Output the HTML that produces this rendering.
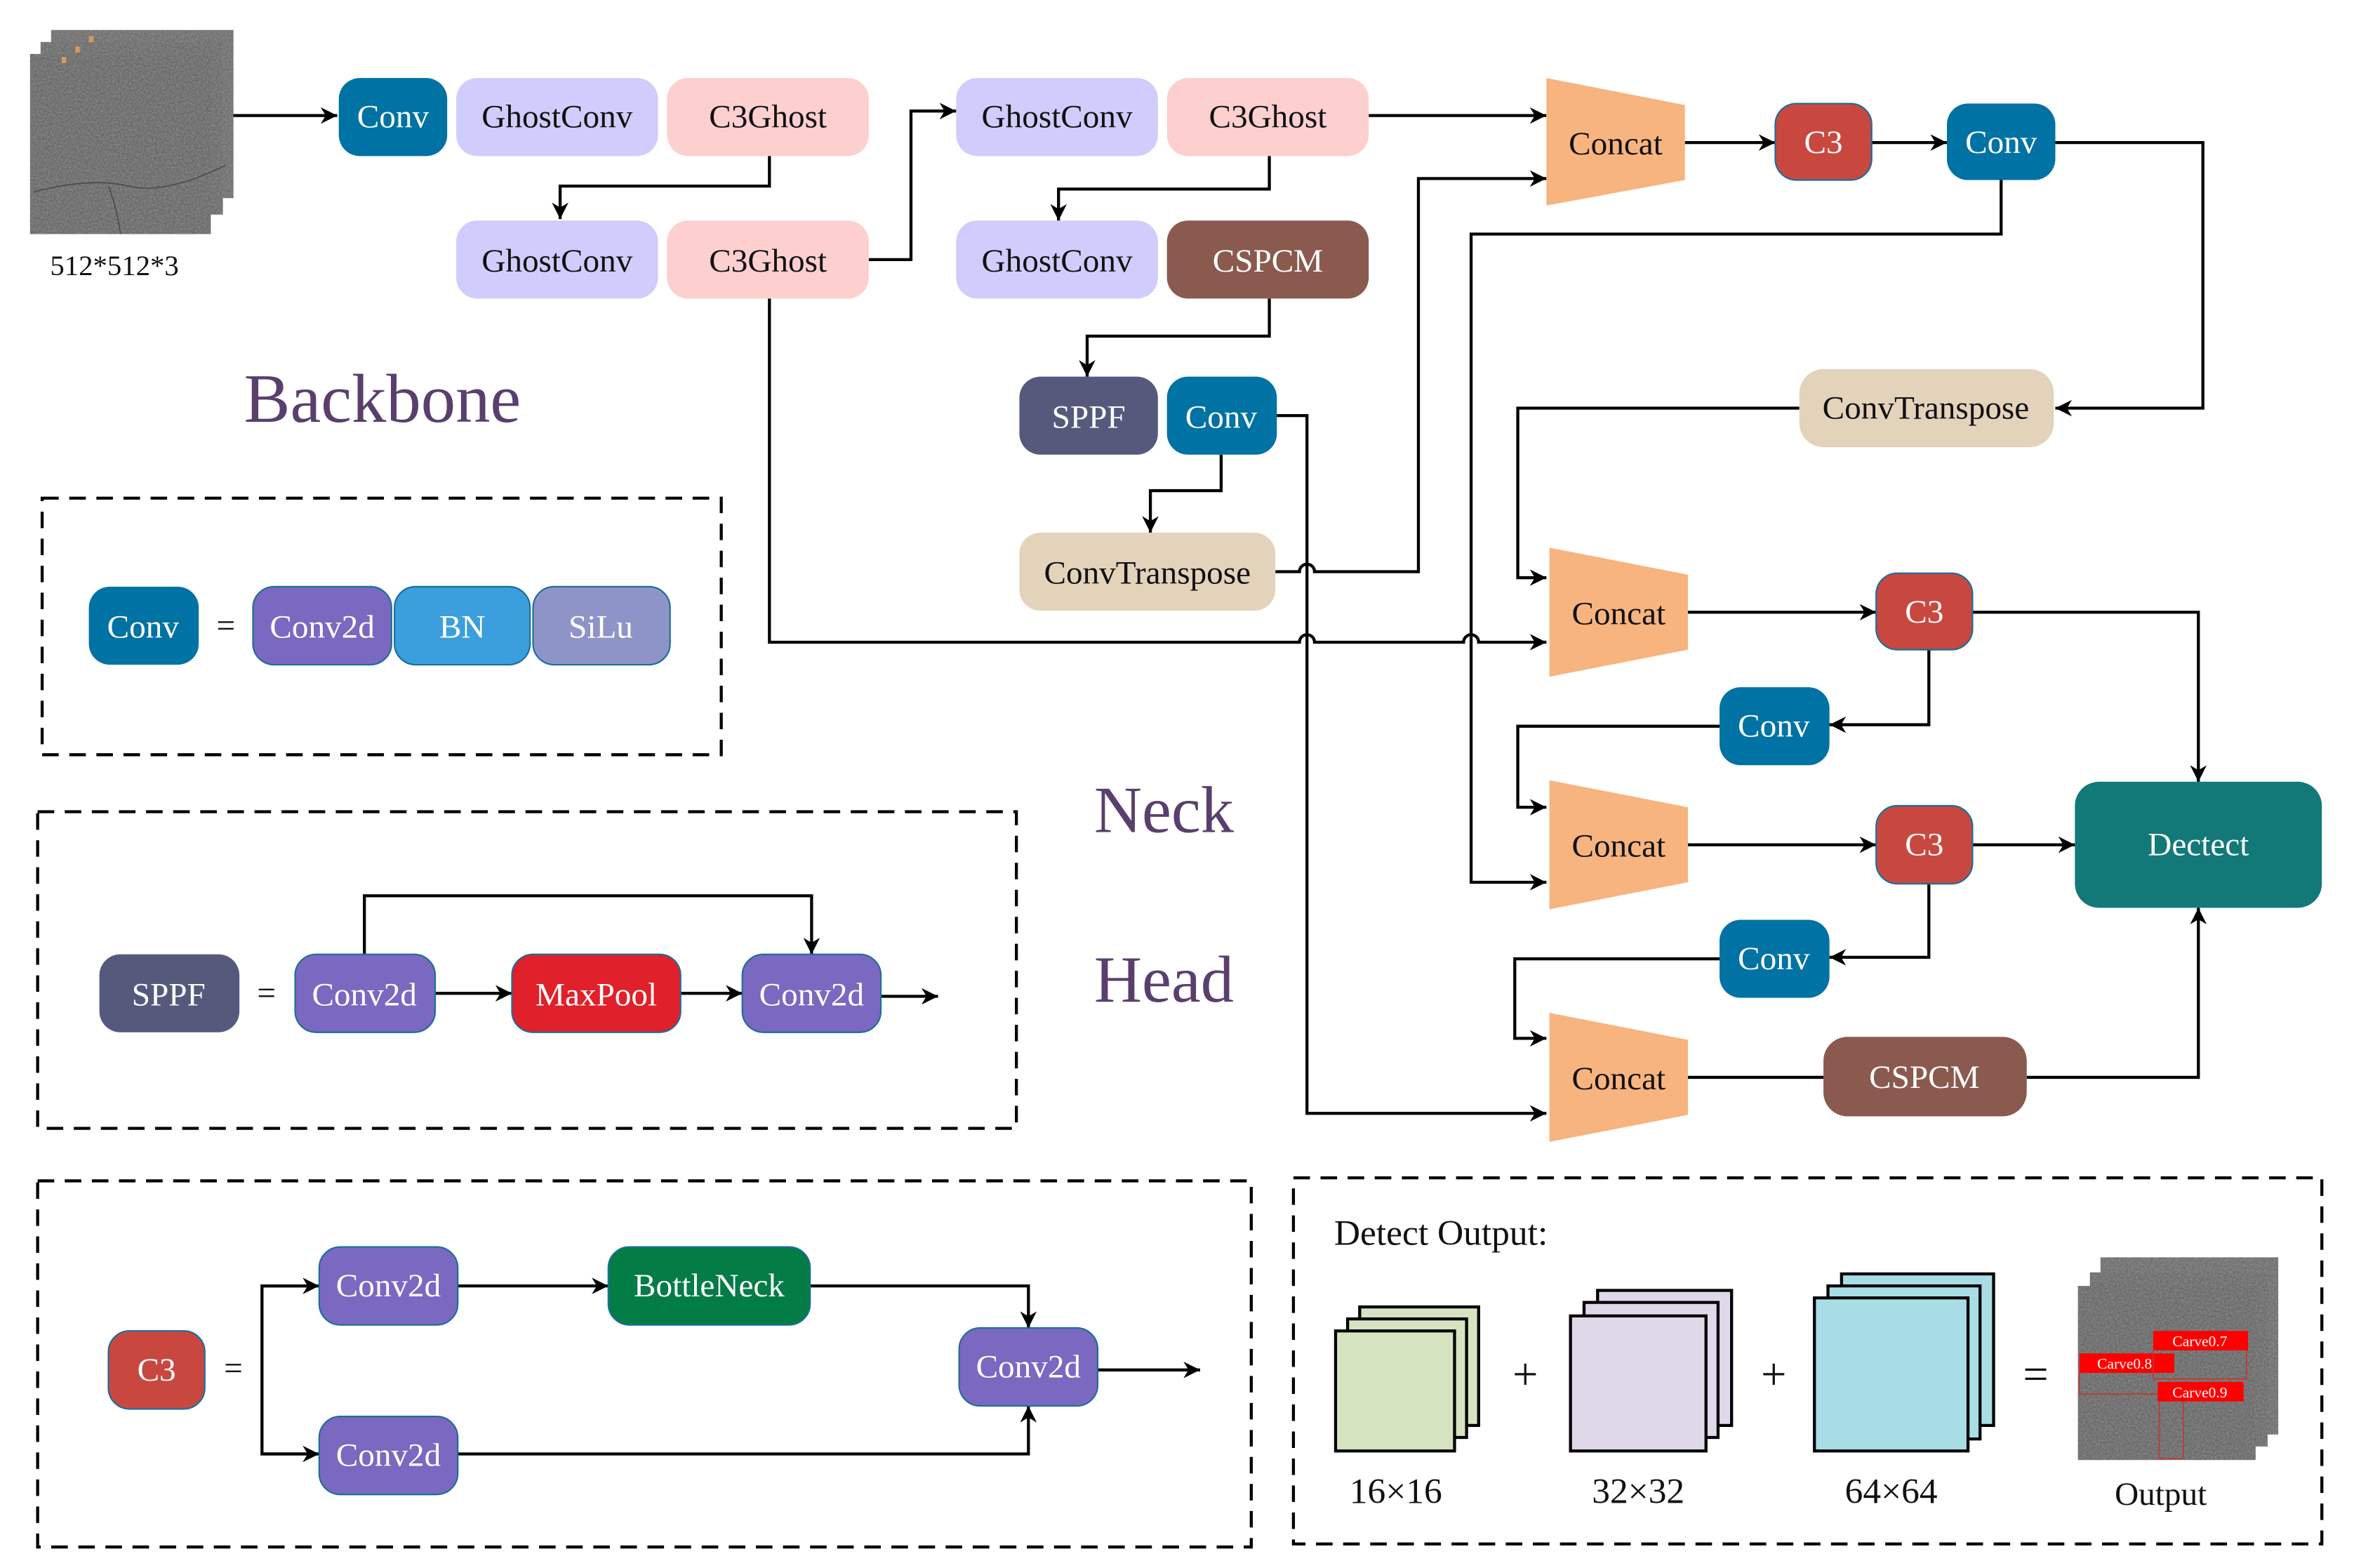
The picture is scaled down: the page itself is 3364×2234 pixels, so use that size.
<!DOCTYPE html>
<html><head><meta charset="utf-8"><style>
html,body{margin:0;padding:0;background:#fff;}
svg{display:block;}
text{font-family:"Liberation Serif",serif;}
</style></head><body>
<svg width="3364" height="2234" viewBox="0 0 1568 1045" preserveAspectRatio="none" xmlns="http://www.w3.org/2000/svg">
<defs>
<marker id="a" viewBox="0 0 10 10" refX="10" refY="5" markerWidth="12" markerHeight="11" orient="auto" markerUnits="userSpaceOnUse"><path d="M0,0 L10,5 L0,10 L3,5 z" fill="#000"/></marker>
<filter id="n" x="0" y="0" width="1" height="1"><feTurbulence type="fractalNoise" baseFrequency="0.8" numOctaves="2" seed="3"/><feColorMatrix type="matrix" values="0 0 0 0 0.3  0 0 0 0 0.3  0 0 0 0 0.3  0 0 0 -1.2 0.9"/></filter>
</defs>
<style>
.l{fill:none;stroke:#000;stroke-width:2;}
.b{stroke:#1b6e9a;stroke-width:1;}
.t{font-family:"Liberation Serif",serif;font-size:22px;text-anchor:middle;dominant-baseline:central;}
.w{fill:#fff;}
.k{fill:#111;}
.d{fill:none;stroke:#000;stroke-width:2;stroke-dasharray:11,7;}
</style>

<!-- input images -->
<g>
<rect x="34" y="20" width="121" height="112" fill="#6e6e6e"/><rect x="34" y="20" width="121" height="112" filter="url(#n)"/>
<rect x="27" y="28" width="121" height="115" fill="#6a6a6a"/><rect x="27" y="28" width="121" height="115" filter="url(#n)"/>
<rect x="20" y="36" width="120" height="120" fill="#686868"/><rect x="20" y="36" width="120" height="120" filter="url(#n)"/>
<path d="M22,128 Q60,118 85,124 T150,110 M72,124 Q78,140 80,156" fill="none" stroke="#3a3a3a" stroke-width="0.8" opacity="0.7"/>
<rect x="59" y="24" width="3" height="4" fill="#d99a5a"/><rect x="50" y="31" width="3" height="4" fill="#d99a5a"/><rect x="41" y="38" width="3" height="4" fill="#d99a5a"/>
</g>
<text x="76" y="177" class="t k" style="font-size:19px">512*512*3</text>

<!-- connectors -->
<path class="l" d="M155,77 H224" marker-end="url(#a)"/>
<path class="l" d="M511,103 V124 H372 V146" marker-end="url(#a)"/>
<path class="l" d="M577,173 H605 V74 H635" marker-end="url(#a)"/>
<path class="l" d="M909,77 H1027" marker-end="url(#a)"/>
<path class="l" d="M843,103 V126 H703 V147" marker-end="url(#a)"/>
<path class="l" d="M843,199 V224 H722 V251" marker-end="url(#a)"/>
<path class="l" d="M848,277 H868 V742 H1027" marker-end="url(#a)"/>
<path class="l" d="M811,303 V327 H764 V355" marker-end="url(#a)"/>
<path class="l" d="M847,381 H863 A5,5 0 0 1 873,381 H942 V119 H1027" marker-end="url(#a)"/>
<path class="l" d="M1119,95 H1179" marker-end="url(#a)"/>
<path class="l" d="M1243,95 H1293" marker-end="url(#a)"/>
<path class="l" d="M1365,95 H1463 V272 H1365" marker-end="url(#a)"/>
<path class="l" d="M1329,120 V156 H977 V588 H1027" marker-end="url(#a)"/>
<path class="l" d="M1195,272 H1008 V385 H1027" marker-end="url(#a)"/>
<path class="l" d="M511,199 V428 H863 A5,5 0 0 1 873,428 H972 A5,5 0 0 1 982,428 H1027" marker-end="url(#a)"/>
<path class="l" d="M1121,408 H1246" marker-end="url(#a)"/>
<path class="l" d="M1310,408 H1460 V521" marker-end="url(#a)"/>
<path class="l" d="M1281,433 V483 H1215" marker-end="url(#a)"/>
<path class="l" d="M1142,484 H1008 V538 H1027" marker-end="url(#a)"/>
<path class="l" d="M1121,563 H1246" marker-end="url(#a)"/>
<path class="l" d="M1310,563 H1378" marker-end="url(#a)"/>
<path class="l" d="M1281,589 V638 H1215" marker-end="url(#a)"/>
<path class="l" d="M1142,639 H1006 V692 H1027" marker-end="url(#a)"/>
<path class="l" d="M1121,718 H1211"/>
<path class="l" d="M1346,718 H1460 V605" marker-end="url(#a)"/>

<!-- backbone boxes -->
<rect x="225" y="52" width="72" height="52" rx="14" fill="#0072a3"/><text x="261" y="78" class="t w">Conv</text>
<rect x="303" y="52" width="134" height="52" rx="14" fill="#d0ccfc"/><text x="370" y="78" class="t k">GhostConv</text>
<rect x="443" y="52" width="134" height="52" rx="14" fill="#fdcfcf"/><text x="510" y="78" class="t k">C3Ghost</text>
<rect x="303" y="147" width="134" height="52" rx="14" fill="#d0ccfc"/><text x="370" y="174" class="t k">GhostConv</text>
<rect x="443" y="147" width="134" height="52" rx="14" fill="#fdcfcf"/><text x="510" y="174" class="t k">C3Ghost</text>
<rect x="635" y="52" width="134" height="52" rx="14" fill="#d0ccfc"/><text x="702" y="78" class="t k">GhostConv</text>
<rect x="775" y="52" width="134" height="52" rx="14" fill="#fdcfcf"/><text x="842" y="78" class="t k">C3Ghost</text>
<rect x="635" y="147" width="134" height="52" rx="14" fill="#d0ccfc"/><text x="702" y="174" class="t k">GhostConv</text>
<rect x="775" y="147" width="134" height="52" rx="14" fill="#8b5a4e"/><text x="842" y="174" class="t w">CSPCM</text>
<rect x="677" y="251" width="92" height="52" rx="14" fill="#555a7d"/><text x="723" y="278" class="t w">SPPF</text>
<rect x="775" y="251" width="73" height="52" rx="14" fill="#0072a3"/><text x="811" y="278" class="t w">Conv</text>
<rect x="677" y="355" width="170" height="52" rx="14" fill="#e3d3bb"/><text x="762" y="382" class="t k">ConvTranspose</text>

<!-- neck/head -->
<path d="M1027,52 L1119,70 V120 L1027,137 Z" fill="#f7b47f"/><text x="1073" y="96" class="t k">Concat</text>
<rect x="1179" y="69" width="64" height="51" rx="14" fill="#c84840" class="b"/><text x="1211" y="95" class="t w">C3</text>
<rect x="1293" y="69" width="72" height="51" rx="14" fill="#0072a3"/><text x="1329" y="95" class="t w">Conv</text>
<rect x="1195" y="246" width="169" height="52" rx="16" fill="#e3d3bb"/><text x="1279" y="272" class="t k">ConvTranspose</text>
<path d="M1029,365 L1121,383 V433 L1029,451 Z" fill="#f7b47f"/><text x="1075" y="409" class="t k">Concat</text>
<rect x="1246" y="382" width="64" height="51" rx="14" fill="#c84840" class="b"/><text x="1278" y="408" class="t w">C3</text>
<rect x="1142" y="458" width="73" height="52" rx="14" fill="#0072a3"/><text x="1178" y="484" class="t w">Conv</text>
<path d="M1029,520 L1121,538 V588 L1029,606 Z" fill="#f7b47f"/><text x="1075" y="564" class="t k">Concat</text>
<rect x="1246" y="537" width="64" height="52" rx="14" fill="#c84840" class="b"/><text x="1278" y="563" class="t w">C3</text>
<rect x="1378" y="521" width="164" height="84" rx="16" fill="#137878"/><text x="1460" y="563" class="t w">Dectect</text>
<rect x="1142" y="613" width="73" height="52" rx="14" fill="#0072a3"/><text x="1178" y="639" class="t w">Conv</text>
<path d="M1029,675 L1121,693 V743 L1029,761 Z" fill="#f7b47f"/><text x="1075" y="719" class="t k">Concat</text>
<rect x="1211" y="691" width="135" height="53" rx="16" fill="#8b5a4e"/><text x="1278" y="718" class="t w">CSPCM</text>

<!-- titles -->
<text x="254" y="266" class="t" style="font-size:46px;fill:#5a3f6e">Backbone</text>
<text x="773" y="540" class="t" style="font-size:44px;fill:#5a3f6e">Neck</text>
<text x="773" y="653" class="t" style="font-size:44px;fill:#5a3f6e">Head</text>

<!-- Box 1 -->
<rect x="28" y="332" width="451" height="171" class="d"/>
<rect x="59" y="391" width="73" height="52" rx="14" fill="#0072a3"/><text x="95" y="418" class="t w">Conv</text>
<text x="150" y="417" class="t k">=</text>
<rect x="168" y="391" width="92" height="52" rx="14" fill="#7b68c0" class="b"/><text x="214" y="418" class="t w">Conv2d</text>
<rect x="262" y="391" width="90" height="52" rx="14" fill="#3a9fdc" class="b"/><text x="307" y="418" class="t w">BN</text>
<rect x="354" y="391" width="91" height="52" rx="14" fill="#8f94c8" class="b"/><text x="399" y="418" class="t w">SiLu</text>

<!-- Box 2 -->
<rect x="25" y="541" width="650" height="211" class="d"/>
<rect x="66" y="636" width="93" height="52" rx="14" fill="#555a7d"/><text x="112" y="663" class="t w">SPPF</text>
<text x="177" y="662" class="t k">=</text>
<path class="l" d="M242,636 V597 H539 V636" marker-end="url(#a)"/>
<path class="l" d="M289,662 H340" marker-end="url(#a)"/>
<path class="l" d="M452,662 H493" marker-end="url(#a)"/>
<path class="l" d="M585,664 H623" marker-end="url(#a)"/>
<rect x="196" y="636" width="93" height="52" rx="14" fill="#7b68c0" class="b"/><text x="242" y="663" class="t w">Conv2d</text>
<rect x="340" y="636" width="112" height="52" rx="14" fill="#e0202a" class="b"/><text x="396" y="663" class="t w">MaxPool</text>
<rect x="493" y="636" width="92" height="52" rx="14" fill="#7b68c0" class="b"/><text x="539" y="663" class="t w">Conv2d</text>

<!-- Box 3 -->
<rect x="25" y="787" width="806" height="244" class="d"/>
<rect x="72" y="887" width="64" height="52" rx="14" fill="#c84840" class="b"/><text x="104" y="913" class="t w">C3</text>
<text x="155" y="912" class="t k">=</text>
<path class="l" d="M211,857 H174 V969 H211" />
<path class="l" d="M174,857 H212" marker-end="url(#a)"/>
<path class="l" d="M174,969 H212" marker-end="url(#a)"/>
<path class="l" d="M304,857 H404" marker-end="url(#a)"/>
<path class="l" d="M538,857 H683 V885" marker-end="url(#a)"/>
<path class="l" d="M304,969 H683 V937" marker-end="url(#a)"/>
<path class="l" d="M729,913 H797" marker-end="url(#a)"/>
<rect x="212" y="831" width="92" height="52" rx="14" fill="#7b68c0" class="b"/><text x="258" y="857" class="t w">Conv2d</text>
<rect x="404" y="831" width="134" height="52" rx="14" fill="#037c45" class="b"/><text x="471" y="857" class="t w">BottleNeck</text>
<rect x="637" y="885" width="92" height="52" rx="14" fill="#7b68c0" class="b"/><text x="683" y="911" class="t w">Conv2d</text>
<rect x="212" y="944" width="92" height="52" rx="14" fill="#7b68c0" class="b"/><text x="258" y="970" class="t w">Conv2d</text>

<!-- Box 4 -->
<rect x="859" y="785" width="683" height="244" class="d"/>
<text x="886" y="822" class="k" style="font-family:'Liberation Serif',serif;font-size:24px;dominant-baseline:central">Detect Output:</text>
<g stroke="#000" stroke-width="2">
<rect x="903" y="871" width="79" height="79" fill="#d5e3c0"/>
<rect x="895" y="879" width="79" height="79" fill="#d5e3c0"/>
<rect x="887" y="887" width="79" height="80" fill="#d5e3c0"/>
<rect x="1061" y="860" width="89" height="90" fill="#ded8e8"/>
<rect x="1052" y="868" width="89" height="90" fill="#ded8e8"/>
<rect x="1043" y="877" width="90" height="90" fill="#ded8e8"/>
<rect x="1223" y="849" width="101" height="101" fill="#a8dde6"/>
<rect x="1214" y="857" width="101" height="102" fill="#a8dde6"/>
<rect x="1205" y="865" width="102" height="102" fill="#a8dde6"/>
</g>
<text x="1013" y="916" class="t k" style="font-size:30px">+</text>
<text x="1178" y="916" class="t k" style="font-size:30px">+</text>
<text x="1352" y="916" class="t k" style="font-size:30px">=</text>
<text x="927" y="994" class="t k" style="font-size:24px">16×16</text>
<text x="1088" y="994" class="t k" style="font-size:24px">32×32</text>
<text x="1256" y="994" class="t k" style="font-size:24px">64×64</text>
<g>
<rect x="1395" y="838" width="118" height="118" fill="#6e6e6e"/><rect x="1395" y="838" width="118" height="118" filter="url(#n)"/>
<rect x="1388" y="848" width="118" height="116" fill="#6a6a6a"/><rect x="1388" y="848" width="118" height="116" filter="url(#n)"/>
<rect x="1380" y="857" width="118" height="116" fill="#686868"/><rect x="1380" y="857" width="118" height="116" filter="url(#n)"/>
<rect x="1430" y="887" width="63" height="13" fill="#f00"/><text x="1461" y="894" class="t w" style="font-size:10px">Carve0.7</text>
<rect x="1381" y="902" width="63" height="13" fill="#f00"/><text x="1411" y="909" class="t w" style="font-size:10px">Carve0.8</text>
<rect x="1433" y="921" width="57" height="13" fill="#f00"/><text x="1461" y="928" class="t w" style="font-size:10px">Carve0.9</text>
<path d="M1381,915 V929 H1433 M1430,900 V919 H1492 V900 M1434,934 V972 H1450 V934" fill="none" stroke="#c0392b" stroke-width="0.8"/>
</g>
<text x="1435" y="996" class="t k" style="font-size:22px">Output</text>
</svg>
</body></html>
